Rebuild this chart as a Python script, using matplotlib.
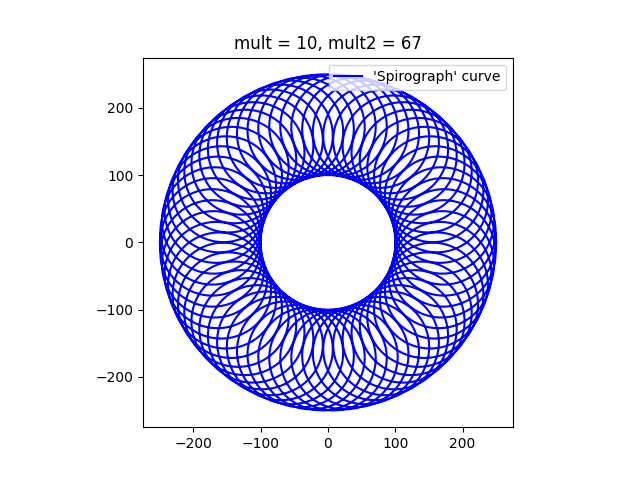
import numpy as np
import matplotlib
matplotlib.use("Agg")
import matplotlib.pyplot as plt

mult = 10
mult2 = 67
R_big = 175
r_small = 75
n_points = 40000

t = np.linspace(0, 2 * np.pi, n_points)
x = R_big * np.cos(t) + r_small * np.cos(mult2 * t)
y = R_big * np.sin(t) + r_small * np.sin(mult2 * t)

fig, ax = plt.subplots(figsize=(6.4, 4.8), dpi=100)
ax.plot(x, y, color='blue', label="'Spirograph' curve")
ax.set_aspect('equal')
ax.set_title(f"mult = {mult}, mult2 = {mult2}")
ax.legend(loc='upper right')
fig.savefig("out.png")
